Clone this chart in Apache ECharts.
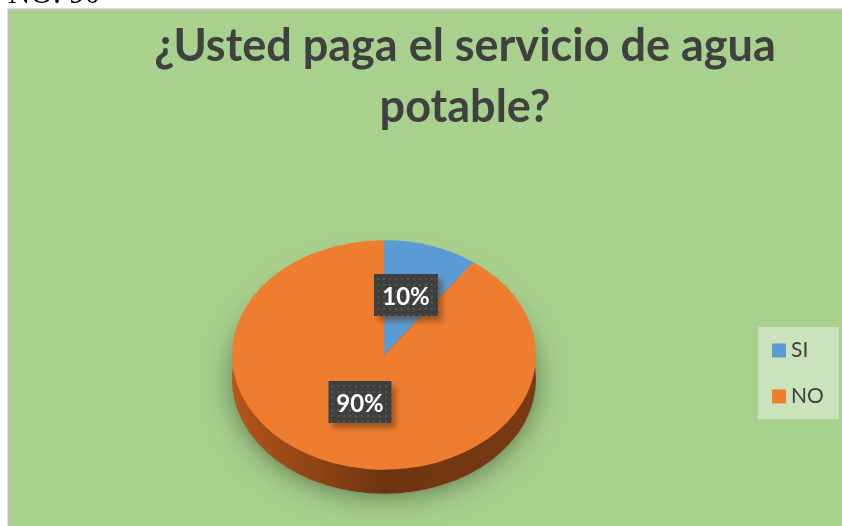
<!DOCTYPE html>
<html>
<head>
<meta charset="utf-8">
<script src="https://cdn.jsdelivr.net/npm/echarts@6/dist/echarts.min.js"></script>
<style>
  html, body { margin: 0; padding: 0; background: #fff; }
  #chart { width: 842px; height: 526px; overflow: hidden; }
</style>
</head>
<body>
<div id="chart"></div>
<script>
const categories = ['SI', 'NO'];
const values = [10, 90];
const labels = ['10%', '90%'];
const titleLines = ['¿Usted paga el servicio de agua', 'potable?'];
const caption = 'NO: 90';

const colors = ['#5B9BD5', '#EF7D2F'];
const total = values.reduce((a, b) => a + b, 0);

// pie is tilted: a circle squashed on y, with a rim drawn below it
const cx = 384;
const cy = 355;
const radius = 152;
const squash = 0.755;
const depth = 24;

// dotted fill of the data label boxes
const makeDots = () => {
  const c = document.createElement('canvas');
  c.width = 6;
  c.height = 6;
  const g = c.getContext('2d');
  g.fillStyle = '#3f3f3f';
  g.fillRect(0, 0, 6, 6);
  g.fillStyle = '#555555';
  g.fillRect(1, 1, 2, 2);
  return c;
};
const dots = makeDots();

const ellipse = (y, style) => ({
  type: 'circle',
  shape: { cx: 0, cy: 0, r: radius },
  x: cx,
  y: y,
  scaleY: squash,
  silent: true,
  style: style,
});

const sliceAngles = (idx) => {
  const before = values.slice(0, idx).reduce((a, b) => a + b, 0);
  return [
    (before / total) * Math.PI * 2 - Math.PI / 2,
    ((before + values[idx]) / total) * Math.PI * 2 - Math.PI / 2,
  ];
};

// shadow and rim under the slices
const renderBase = () => ({
  type: 'group',
  children: [
    ellipse(cy + depth + 2, {
      fill: '#7f9e6b',
      shadowBlur: 30,
      shadowColor: 'rgba(70,95,60,0.8)',
    }),
    ellipse(cy + depth, {
      fill: new echarts.graphic.LinearGradient(0, 0, 1, 0, [
        { offset: 0, color: '#b4561a' },
        { offset: 0.5, color: '#6e3410' },
        { offset: 1, color: '#7a3a12' },
      ]),
    }),
  ],
});

const renderSlice = (idx) => (params, api) => {
  const [start, end] = sliceAngles(idx);
  return {
    type: 'sector',
    shape: { cx: 0, cy: 0, r: radius, r0: 0, startAngle: start, endAngle: end },
    x: cx,
    y: cy,
    scaleY: squash,
    style: { fill: api.visual('color') },
  };
};

const renderLabel = (idx) => () => {
  const positions = [[406, 295], [360, 402]];
  const widths = [64, 63];
  const p = positions[idx];
  return {
    type: 'group',
    x: p[0],
    y: p[1],
    children: [
      {
        type: 'rect',
        shape: { x: -widths[idx] / 2, y: -21, width: widths[idx], height: 42 },
        style: {
          fill: { image: dots, repeat: 'repeat' },
          shadowBlur: 6,
          shadowOffsetX: 4,
          shadowOffsetY: 5,
          shadowColor: 'rgba(90,50,20,0.55)',
        },
      },
      {
        type: 'text',
        style: {
          x: 0,
          y: 2,
          text: labels[idx],
          fill: '#ffffff',
          font: 'bold 24px Lato',
          align: 'center',
          verticalAlign: 'middle',
        },
      },
    ],
  };
};

const baseSeries = {
  type: 'custom',
  coordinateSystem: 'none',
  data: [total],
  renderItem: renderBase,
  z: 1,
  silent: true,
};

const sliceSeries = categories.map((name, idx) => ({
  name: name,
  type: 'custom',
  coordinateSystem: 'none',
  data: [values[idx]],
  itemStyle: { color: colors[idx] },
  renderItem: renderSlice(idx),
  z: 2,
  silent: true,
}));

const labelSeries = categories.map((name, idx) => ({
  name: name,
  type: 'custom',
  coordinateSystem: 'none',
  data: [values[idx]],
  itemStyle: { color: colors[idx] },
  renderItem: renderLabel(idx),
  z: 5,
  silent: true,
}));

const chart = echarts.init(document.getElementById('chart'), null, { renderer: 'canvas' });

chart.setOption({
  animation: false,
  textStyle: { fontFamily: 'Lato' },
  graphic: [
    {
      type: 'rect',
      z: -10,
      shape: { x: 8.5, y: 9.5, width: 840, height: 530 },
      style: { fill: '#A9D18E', stroke: '#BFBFBF', lineWidth: 2 },
    },
    {
      type: 'text',
      z: -10,
      x: 8,
      y: -21,
      style: { text: caption, fill: '#000', font: '31px "Liberation Serif"' },
    },
    {
      type: 'text',
      z: 1,
      x: 465,
      y: 16,
      style: {
        text: titleLines.join('\n'),
        fill: '#404040',
        font: 'bold 45px Lato',
        lineHeight: 61,
        align: 'center',
      },
    },
  ],
  legend: {
    orient: 'vertical',
    left: 758,
    top: 327,
    data: categories,
    padding: [13, 15, 12, 14],
    itemWidth: 14,
    itemHeight: 14,
    itemGap: 25,
    icon: 'rect',
    backgroundColor: 'rgba(255,255,255,0.4)',
    selectedMode: false,
    textStyle: { color: '#404040', fontSize: 21, fontFamily: 'Lato', lineHeight: 20 },
  },
  series: [baseSeries].concat(sliceSeries, labelSeries),
});

window.addEventListener('resize', () => chart.resize());
</script>
</body>
</html>
